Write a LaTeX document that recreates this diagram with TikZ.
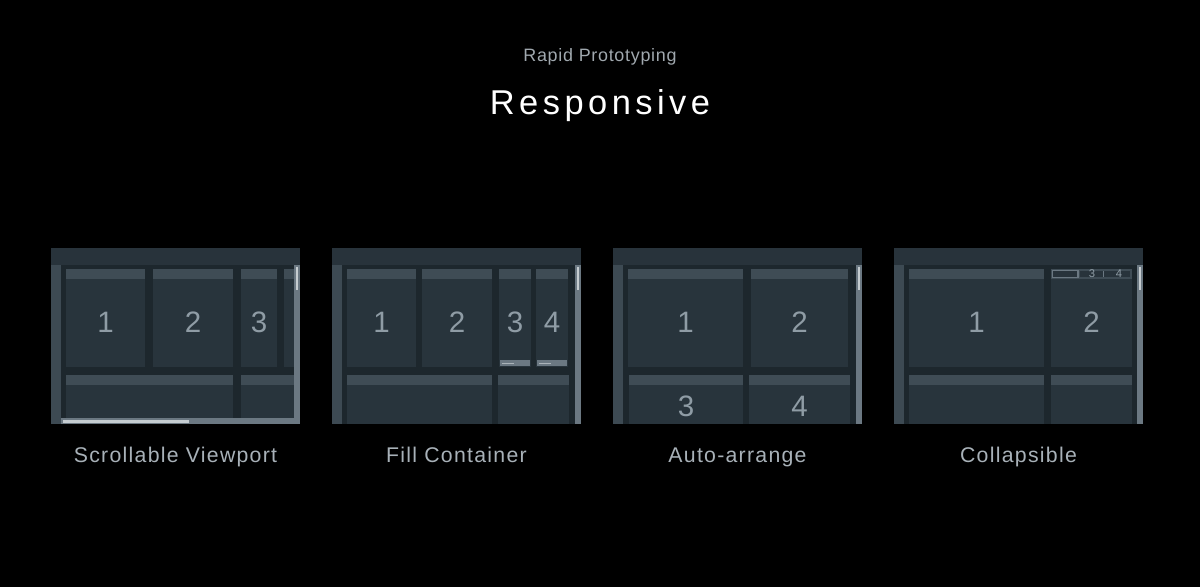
\documentclass[tikz,border=0pt]{standalone}
\usepackage{fontspec}
\setmainfont{Liberation Sans}
\definecolor{headcol}{HTML}{28333B}
\definecolor{gapcol}{HTML}{1D272D}
\definecolor{sidecol}{HTML}{3D4A53}
\definecolor{cardcol}{HTML}{28343C}
\definecolor{cardtop}{HTML}{3F4C55}
\definecolor{trackcol}{HTML}{6B7882}
\definecolor{thumbcol}{HTML}{C5CCD0}
\definecolor{numcol}{HTML}{8F9CA5}
\definecolor{labelcol}{HTML}{A8B1B8}
\definecolor{subcol}{HTML}{A0A8AE}
% one window: left and right edge
\newcommand{\uiwindow}[2]{%
  \fill[gapcol] (#1,248) rectangle (#2,424);
  \fill[headcol] (#1,248) rectangle (#2,265);
  \fill[sidecol] (#1,265) rectangle ({#1+10},424);
  \fill[trackcol] ({#2-6},265) rectangle (#2,424);
  \fill[thumbcol] ({#2-4.5},267) rectangle ({#2-2},290);}
% one card: left, top, right, bottom
\newcommand{\uicard}[4]{%
  \fill[cardcol] (#1,#2) rectangle (#3,#4);
  \fill[cardtop] (#1,#2) rectangle (#3,{#2+10});}
\tikzset{
  num/.style={text=numcol, inner sep=0pt, font=\fontsize{16.8}{18}\selectfont},
  tabnum/.style={text=numcol, inner sep=0pt, font=\fontsize{6.4}{7}\selectfont},
  caption/.style={text=labelcol, anchor=base, inner sep=0pt,
    font=\fontsize{12.1}{14}\selectfont\addfontfeature{LetterSpace=6}},
}
\begin{document}
\begin{tikzpicture}[x=0.02cm, y=-0.02cm]
  \fill[black] (0,0) rectangle (1200,587);
  \useasboundingbox (0,0) rectangle (1200,587);
  % headings
  \node[text=subcol, anchor=base, inner sep=0pt,
    font=\fontsize{10.2}{12}\selectfont\addfontfeature{LetterSpace=4}]
    (subtitle) at (600,62) {Rapid Prototyping};
  \node[text=white, anchor=base, inner sep=0pt,
    font=\fontsize{19.6}{22}\selectfont\addfontfeature{LetterSpace=13}]
    (title) at (600,115) {Responsive};
  % scrollable viewport
  \uiwindow{51}{300}
  \uicard{66}{269}{145}{367}
  \uicard{153}{269}{233}{367}
  \uicard{241}{269}{277}{367}
  \uicard{284}{269}{294}{367}
  \uicard{66}{375}{233}{418}
  \uicard{241}{375}{294}{418}
  \fill[trackcol] (61,418) rectangle (294,424);
  \fill[thumbcol] (63,420) rectangle (189,422.5);
  \node[num] (vp1) at (105.5,322) {1};
  \node[num] (vp2) at (193,322) {2};
  \node[num] (vp3) at (259,322) {3};
  % fill container
  \uiwindow{332}{581}
  \uicard{347}{269}{416}{367}
  \uicard{422}{269}{492}{367}
  \uicard{499}{269}{531}{367}
  \uicard{536}{269}{568}{367}
  \uicard{347}{375}{492}{424}
  \uicard{498}{375}{569}{424}
  \foreach \bx in {499,536} {
    \fill[trackcol] (\bx+1,360) rectangle (\bx+31,366);
    \draw[thumbcol!70!trackcol, line width=0.5pt] (\bx+3,363) -- (\bx+15,363);
  }
  \node[num] (fc1) at (381.5,322) {1};
  \node[num] (fc2) at (457,322) {2};
  \node[num] (fc3) at (515,322) {3};
  \node[num] (fc4) at (552,322) {4};
  % auto-arrange
  \uiwindow{613}{862}
  \uicard{628}{269}{743}{367}
  \uicard{751}{269}{848}{367}
  \uicard{629}{375}{743}{424}
  \uicard{749}{375}{850}{424}
  \node[num] (aa1) at (685.5,322) {1};
  \node[num] (aa2) at (799.5,322) {2};
  \node[num] (aa3) at (686,406) {3};
  \node[num] (aa4) at (799.5,406) {4};
  % collapsible
  \uiwindow{894}{1143}
  \uicard{909}{269}{1044}{367}
  \uicard{1051}{269}{1132}{367}
  \uicard{909}{375}{1044}{424}
  \uicard{1051}{375}{1132}{424}
  \fill[headcol] (1080,271) rectangle (1130,277);
  \draw[trackcol, line width=0.6pt, fill=headcol] (1052.5,270.5) rectangle (1078,277.5);
  \draw[trackcol, line width=0.5pt] (1103,271) -- (1103,277);
  \node[tabnum] (cl3) at (1092,274) {3};
  \node[tabnum] (cl4) at (1119,274) {4};
  \node[num] (cl1) at (976.5,322) {1};
  \node[num] (cl2) at (1091.5,322) {2};
  % captions
  \node[caption] (capvp) at (175.5,462) {Scrollable Viewport};
  \node[caption] (capfc) at (456.5,462) {Fill Container};
  \node[caption] (capaa) at (737.5,462) {Auto-arrange};
  \node[caption] (capcl) at (1018.5,462) {Collapsible};
\end{tikzpicture}
\end{document}
